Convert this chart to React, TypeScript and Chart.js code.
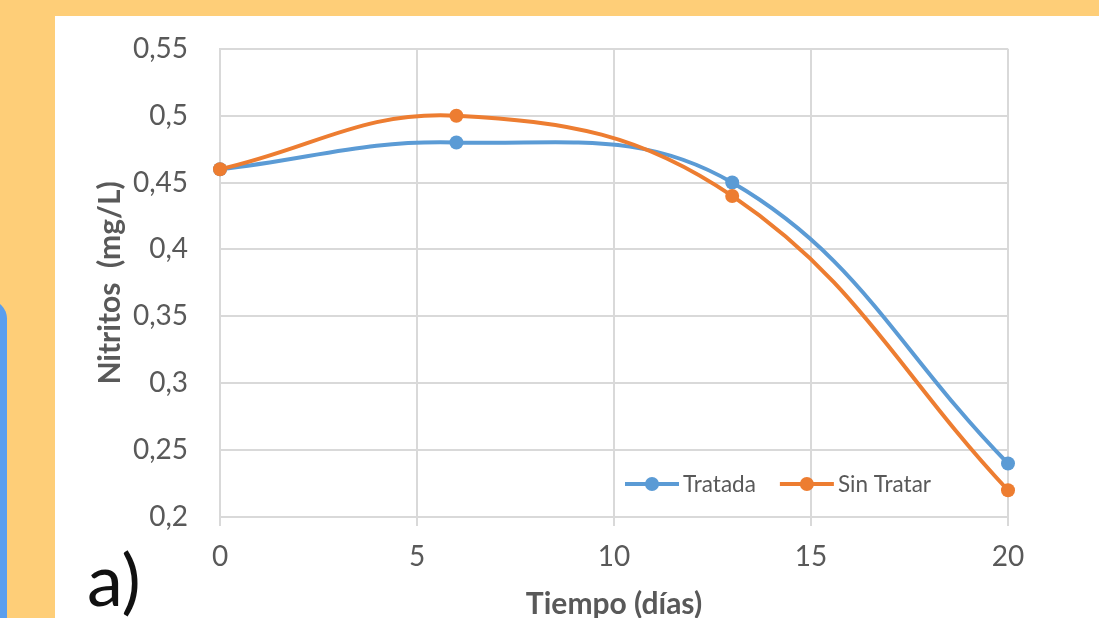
import { useEffect, useRef } from "react";
import { Chart, registerables } from "chart.js";

Chart.register(...registerables);

// ---- data ----
const dias = [0, 6, 13, 20];
const tratada = [0.46, 0.48, 0.45, 0.24];
const sinTratar = [0.46, 0.5, 0.44, 0.22];
const seriesNames = ["Tratada", "Sin Tratar"];
const seriesColors = ["#5B9BD5", "#ED7D31"];
const xTitle = "Tiempo (días)";
const yTitle = "Nitritos  (mg/L)";
const panelLabel = "a)";

const FONT = "Lato";
const TEXT = "#595959";
const GRID = "#D9D9D9";

const legendPlugin = {
  id: "insideLegend",
  afterDatasetsDraw(chart: any) {
    const ctx = chart.ctx;
    const area = chart.chartArea;
    const y = area.bottom - 33;
    let x = area.left + 405;
    ctx.save();
    ctx.font = `22.5px ${FONT}`;
    ctx.textBaseline = "middle";
    ctx.textAlign = "left";
    chart.data.datasets.forEach((ds: any) => {
      const lineLen = 54;
      ctx.strokeStyle = ds.borderColor;
      ctx.lineWidth = 4;
      ctx.beginPath();
      ctx.moveTo(x, y);
      ctx.lineTo(x + lineLen, y);
      ctx.stroke();
      ctx.fillStyle = ds.backgroundColor;
      ctx.beginPath();
      ctx.arc(x + lineLen / 2, y, 7, 0, Math.PI * 2);
      ctx.fill();
      ctx.fillStyle = TEXT;
      ctx.fillText(ds.label, x + lineLen + 4, y + 1);
      const w = ctx.measureText(ds.label).width;
      x += lineLen + 4 + w + 24;
    });
    ctx.restore();
  },
};

const fmt = (v: number) => Number(v.toFixed(2)).toString().replace(".", ",");

export default function App() {
  const ref = useRef<HTMLCanvasElement | null>(null);

  useEffect(() => {
    if (!ref.current) return;
    const mk = (vals: number[], i: number, order: number) => ({
      label: seriesNames[i],
      data: dias.map((d, k) => ({ x: d, y: vals[k] })),
      borderColor: seriesColors[i],
      backgroundColor: seriesColors[i],
      borderWidth: 4,
      pointRadius: 7,
      pointBorderWidth: 0,
      pointBackgroundColor: seriesColors[i],
      tension: 0.4,
      clip: false as any,
      order,
    });
    const chart = new Chart(ref.current, {
      type: "line",
      data: {
        datasets: [mk(tratada, 0, 1), mk(sinTratar, 1, 0)],
      },
      options: {
        animation: false,
        responsive: false,
        devicePixelRatio: 1,
        events: [],
        layout: { padding: { left: 0, right: 91, top: 48, bottom: 0 } },
        plugins: {
          legend: { display: false },
          tooltip: { enabled: false },
        },
        scales: {
          x: {
            type: "linear",
            min: 0,
            max: 20,
            ticks: {
              stepSize: 5,
              color: TEXT,
              font: { family: FONT, size: 28 },
              padding: 14,
            },
            grid: {
              color: GRID,
              lineWidth: 2,
              drawTicks: true,
              tickLength: 9,
              tickColor: GRID,
            },
            border: { display: true, color: GRID, width: 2 },
            title: {
              display: true,
              text: xTitle,
              color: TEXT,
              font: { family: FONT, size: 30, weight: "bold" },
              padding: { top: 0, bottom: -4 },
            },
            afterFit: (s: any) => {
              s.height = 101;
            },
          },
          y: {
            type: "linear",
            min: 0.2,
            max: 0.55,
            ticks: {
              stepSize: 0.05,
              color: TEXT,
              font: { family: FONT, size: 28 },
              padding: 32,
              callback: (v: any) => fmt(Number(v)),
            },
            grid: { color: GRID, lineWidth: 2, drawTicks: false },
            border: { display: true, color: GRID, width: 2 },
            title: {
              display: true,
              text: yTitle,
              color: TEXT,
              font: { family: FONT, size: 30, weight: "bold" },
              padding: { top: 92, bottom: 0 },
            },
            afterFit: (s: any) => {
              s.width = 220;
            },
          },
        },
      },
      plugins: [legendPlugin],
    });
    return () => chart.destroy();
  }, []);

  return (
    <div
      style={{
        position: "fixed",
        left: 0,
        top: 0,
        width: 1099,
        height: 618,
        overflow: "hidden",
        background: "#FECE78",
      }}
    >
      <div
        style={{
          position: "absolute",
          left: -30,
          top: 300,
          width: 37,
          height: 400,
          background: "#5A9EEE",
          borderRadius: 30,
        }}
      />
      <div
        style={{
          position: "absolute",
          left: 55,
          top: 16,
          width: 1044,
          height: 602,
          background: "#FFFFFF",
        }}
      />
      <canvas
        ref={ref}
        width={1099}
        height={618}
        style={{ position: "absolute", left: 0, top: 0, width: 1099, height: 618 }}
      />
      <div
        style={{
          position: "absolute",
          left: 87,
          top: 542,
          fontFamily: FONT,
          fontSize: 72,
          lineHeight: "72px",
          color: "#111",
        }}
      >
        {panelLabel}
      </div>
    </div>
  );
}
